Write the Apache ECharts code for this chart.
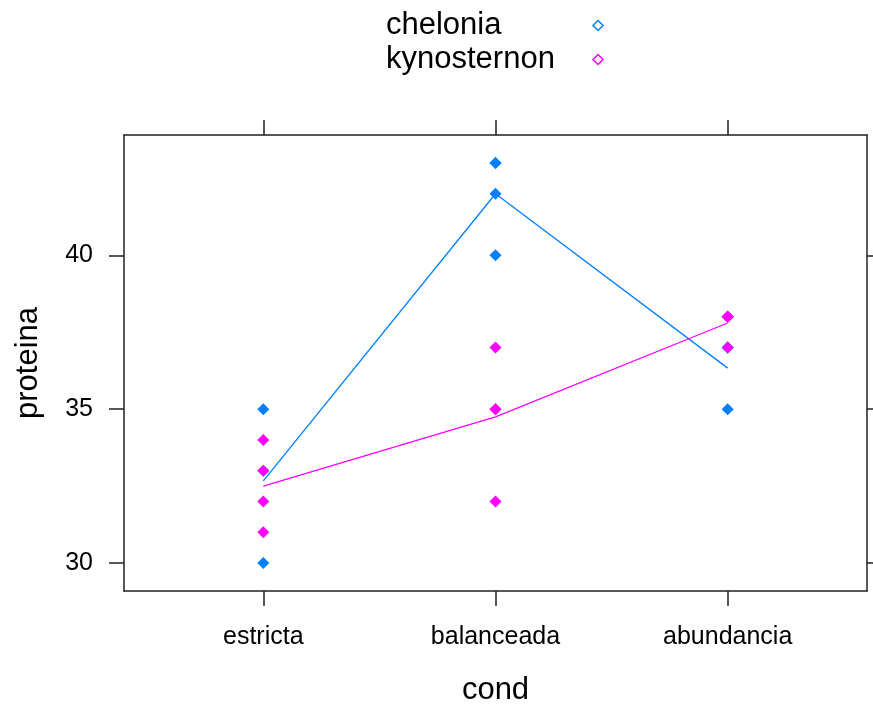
<!DOCTYPE html>
<html>
<head>
<meta charset="utf-8">
<script src="https://cdn.jsdelivr.net/npm/echarts@6/dist/echarts.min.js"></script>
<style>
  html, body { margin: 0; padding: 0; background: #fff; }
  #chart { width: 873px; height: 706px; }
</style>
</head>
<body>
<div id="chart"></div>
<script>
// Diet condition levels along the x axis (positions 1, 2, 3)
const cond = ['estricta', 'balanceada', 'abundancia'];

// Protein readings per species, one array per condition level
const chelonia = [
  [35, 33, 30],
  [43, 43, 42, 40],
  [37, 37, 35]
];
const kynosternon = [
  [34, 33, 32, 31],
  [37, 35, 35, 32],
  [38, 38, 38, 38, 37]
];

const yTicks = [30, 35, 40];
const xTicks = [1, 2, 3];

const blue = '#0080ff';
const magenta = '#ff00ff';
const FONT = '"Liberation Sans", Arial, sans-serif';
const KEY_SIZE = 31;
const KEY_COL = 202; // width of the name column in the key

// Raw observations as [level, value] pairs
function points(groups) {
  const out = [];
  groups.forEach((vals, i) => vals.forEach(v => out.push([i + 1, v])));
  return out;
}
// Group means joined by a line
function means(groups) {
  return groups.map((vals, i) => [i + 1, vals.reduce((a, b) => a + b, 0) / vals.length]);
}

const measureCtx = document.createElement('canvas').getContext('2d');
function textWidth(s) {
  measureCtx.font = KEY_SIZE + 'px ' + FONT;
  return measureCtx.measureText(s).width;
}

const axisLine = { show: true, lineStyle: { color: '#222', width: 1.5 } };
const tickStyle = { color: '#222', width: 1.5 };

// Key entry: name in a fixed-width column, open diamond to its right
function keyEntry(name, color, top) {
  const pad = Math.max(0, KEY_COL - textWidth(name));
  return {
    left: 386, top: top, align: 'right', orient: 'vertical', padding: 0,
    itemWidth: 10, itemHeight: 10,
    textStyle: { fontFamily: FONT, fontSize: KEY_SIZE, color: '#000', padding: [0, pad, 0, 0] },
    data: [{ name: name, icon: 'diamond',
             itemStyle: { color: '#fff', borderColor: color, borderWidth: 1.5 } }]
  };
}

const chart = echarts.init(document.getElementById('chart'), null, { renderer: 'canvas' });
chart.setOption({
  backgroundColor: '#fff',
  animation: false,
  grid: { left: 124, top: 135, width: 743, height: 456, outerBoundsMode: 'none', containLabel: false },
  legend: [
    keyEntry('chelonia', blue, 10),
    keyEntry('kynosternon', magenta, 44)
  ],
  xAxis: [
    {
      type: 'value', position: 'bottom', min: 0.4, max: 3.6,
      name: 'cond', nameLocation: 'middle', nameGap: 84,
      nameTextStyle: { fontFamily: FONT, fontSize: 31, color: '#000' },
      axisLine: axisLine,
      axisTick: { show: true, inside: false, length: 15, customValues: xTicks, lineStyle: tickStyle },
      axisLabel: { show: true, customValues: xTicks, margin: 34,
                   fontFamily: FONT, fontSize: 25, color: '#000',
                   formatter: v => cond[Math.round(v) - 1] },
      splitLine: { show: false }
    },
    {
      type: 'value', position: 'top', min: 0.4, max: 3.6,
      axisLine: axisLine,
      axisTick: { show: true, inside: false, length: 15, customValues: xTicks, lineStyle: tickStyle },
      axisLabel: { show: false },
      splitLine: { show: false }
    }
  ],
  yAxis: [
    {
      type: 'value', position: 'left', min: 29.09, max: 43.91,
      name: 'proteina', nameLocation: 'middle', nameGap: 80,
      nameTextStyle: { fontFamily: FONT, fontSize: 31, color: '#000' },
      axisLine: axisLine,
      axisTick: { show: true, inside: false, length: 15, customValues: yTicks, lineStyle: tickStyle },
      axisLabel: { show: true, customValues: yTicks, margin: 31,
                   fontFamily: FONT, fontSize: 25, color: '#000' },
      splitLine: { show: false }
    },
    {
      type: 'value', position: 'right', min: 29.09, max: 43.91,
      axisLine: axisLine,
      axisTick: { show: true, inside: false, length: 15, customValues: yTicks, lineStyle: tickStyle },
      axisLabel: { show: false },
      splitLine: { show: false }
    }
  ],
  series: [
    {
      name: 'chelonia', type: 'scatter', symbol: 'diamond', symbolSize: 12,
      itemStyle: { color: blue, opacity: 1 }, data: points(chelonia)
    },
    {
      name: 'chelonia', type: 'line', symbol: 'none',
      lineStyle: { color: blue, width: 1.3 }, itemStyle: { color: blue },
      data: means(chelonia)
    },
    {
      name: 'kynosternon', type: 'scatter', symbol: 'diamond', symbolSize: 12,
      itemStyle: { color: magenta, opacity: 1 }, data: points(kynosternon)
    },
    {
      name: 'kynosternon', type: 'line', symbol: 'none',
      lineStyle: { color: magenta, width: 1.3 }, itemStyle: { color: magenta },
      data: means(kynosternon)
    }
  ]
});
</script>
</body>
</html>
